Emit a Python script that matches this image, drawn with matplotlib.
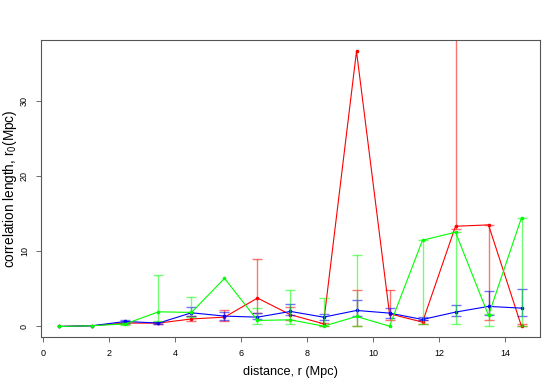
import numpy as np
import matplotlib
matplotlib.use("Agg")
import matplotlib.pyplot as plt

plt.rcParams['font.family'] = ['Liberation Sans', 'DejaVu Sans']
plt.rcParams['mathtext.fontset'] = 'custom'
plt.rcParams['mathtext.rm'] = 'Liberation Sans'
plt.rcParams['mathtext.it'] = 'Liberation Sans'

nan = np.nan

# ------------ dados ------------------------------
distancia = [0.5, 1.5, 2.5, 3.5, 4.5, 5.5, 6.5, 7.5, 8.5, 9.5, 10.5, 11.5, 12.5, 13.5, 14.5]

r0_vermelho = [0.0, 0.1, 0.45, 0.45, 1.0, 1.24, 3.78, 1.56, 0.36, 36.6, 1.69, 0.58, 13.33, 13.51, 0.0]
inf_vermelho = [nan, nan, 0.35, 0.35, 0.67, 0.7, 1.78, 0.9, 0.1, 0.09, 0.8, 0.27, 13.0, 0.84, 0.04]
sup_vermelho = [nan, nan, 0.55, 0.6, 1.33, 2.13, 8.93, 2.58, 0.5, 4.89, 4.8, 0.8, 45.0, 13.51, 0.31]

r0_verde = [0.0, 0.1, 0.35, 1.95, 1.87, 6.4, 0.8, 0.89, 0.04, 1.33, 0.04, 11.47, 12.53, 1.47, 14.49]
inf_verde = [nan, nan, 0.25, 0.7, 1.3, nan, 0.36, 0.27, 0.0, 0.09, nan, 0.36, 0.27, 0.04, 0.04]
sup_verde = [nan, nan, 0.5, 6.9, 3.95, nan, 2.49, 4.84, 3.82, 9.47, nan, 11.47, 12.53, 1.6, 14.49]

r0_azul = [0.0, 0.1, 0.67, 0.45, 1.82, 1.38, 1.24, 2.0, 1.24, 2.13, 1.78, 0.93, 1.91, 2.67, 2.44]
inf_azul = [nan, nan, 0.5, 0.35, 1.33, 0.9, 1.0, 1.56, 0.84, 1.42, 1.11, 0.8, 1.33, 1.5, 1.33]
sup_azul = [nan, nan, 0.85, 0.55, 2.58, 1.9, 1.78, 3.02, 1.64, 3.51, 2.49, 1.24, 2.84, 4.76, 4.93]

series = [
    (r0_vermelho, inf_vermelho, sup_vermelho, '#ff0000'),
    (r0_azul, inf_azul, sup_azul, '#0000ff'),
    (r0_verde, inf_verde, sup_verde, '#00ff00'),
]

# ------------ grafico -------------
fig = plt.figure(figsize=(5.6, 3.88), dpi=100)
ax = fig.add_axes([41 / 560, 1 - 337 / 388, 499 / 560, 297 / 388])

for r0, inf, sup, cor in series:
    inf = np.array(inf)
    sup = np.array(sup)
    centro = (inf + sup) / 2
    meia = (sup - inf) / 2
    ax.errorbar(distancia, centro, yerr=meia, fmt='none', ecolor=cor,
                elinewidth=1.0, capsize=3.8, capthick=1.0, alpha=0.55)
    ax.plot(distancia, r0, color=cor, linewidth=0.8, marker='o',
            markersize=2.6, markeredgewidth=0)

ax.set_xlim(-0.06, 15.06)
ax.set_ylim(-1.4, 38.1)
ax.set_xticks(range(0, 15, 2))
ax.set_yticks([0, 10, 20, 30])

for lado in ax.spines.values():
    lado.set_color('#555555')
    lado.set_linewidth(0.8)

ax.tick_params(axis='both', labelsize=6.5, length=3.6, width=0.6,
               color='#555555', pad=5)
plt.setp(ax.get_yticklabels(), rotation=90, va='center')

ax.set_xlabel('distance, r (Mpc)', fontsize=9.2, va='center')
ax.set_ylabel(r'correlation length, r$_\mathrm{0}$(Mpc)', fontsize=9.8, va='center')
ax.xaxis.set_label_coords(0.5, -0.117)
ax.yaxis.set_label_coords(-0.062, 0.5)

plt.savefig('out.png', dpi=100)
